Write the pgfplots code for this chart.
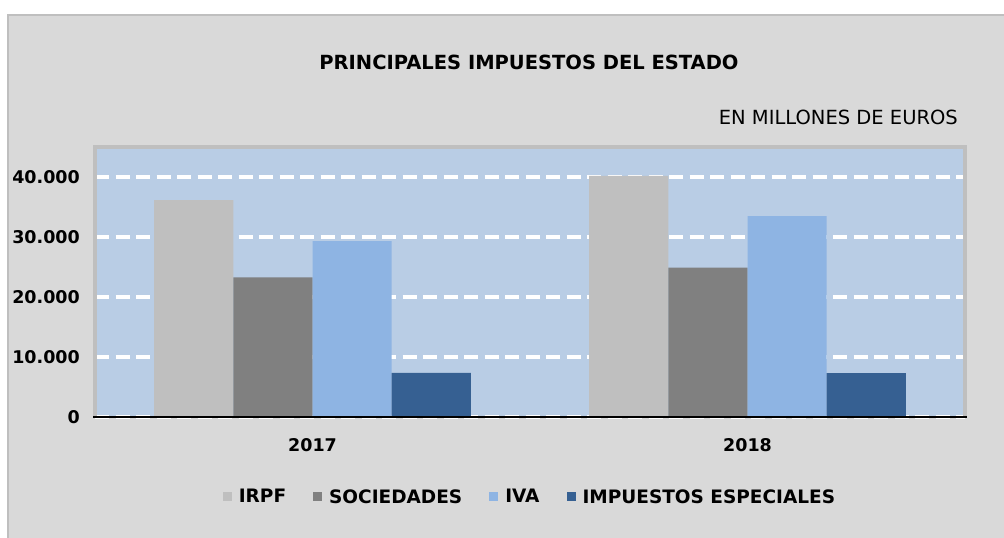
\documentclass[border=0pt]{standalone}
\usepackage{fontspec}
\setmainfont{DejaVu Sans}
\usepackage{pgfplots}
\pgfplotsset{compat=1.18}

\definecolor{outerbg}{HTML}{D9D9D9}
\definecolor{plotbg}{HTML}{B9CDE5}
\definecolor{framec}{HTML}{BFBFBF}
\definecolor{cIRPF}{HTML}{BFBFBF}
\definecolor{cSoc}{HTML}{808080}
\definecolor{cIVA}{HTML}{8EB4E3}
\definecolor{cIE}{HTML}{366092}

\newcommand{\fs}{\fontsize{17.5}{21}\selectfont}
\newcommand{\fst}{\fontsize{19.5}{23}\selectfont}
\newcommand{\fsl}{\fontsize{18.5}{22}\selectfont}

\pgfplotsset{sqleg/.style={legend image code/.code={\fill[##1] (0pt,-4.5pt) rectangle (9pt,4.5pt);}}}

\begin{document}
\begin{tikzpicture}[x=1pt,y=1pt]
\fill[white] (0,0) rectangle (1004,538);
\path[use as bounding box] (0,0) rectangle (1004,538);
\fill[outerbg] (8,0) rectangle (1004,523);
\draw[framec, line width=2pt] (8,0) -- (8,523) -- (1004,523);
% titles
\node[font=\fst\bfseries] at (529,476) {PRINCIPALES IMPUESTOS DEL ESTADO};
\node[font=\fst, anchor=east, inner sep=0pt] at (958,421) {EN MILLONES DE EUROS};
% plot area
\fill[plotbg] (95,121) rectangle (965,391);
\begin{axis}[
    at={(95pt,121pt)}, anchor=south west,
    width=870pt, height=270pt, scale only axis,
    xmin=-0.5, xmax=1.5, ymin=0, ymax=45000,
    scaled y ticks=false,
    ybar=0pt, bar width=0.182,
    axis line style={draw=none},
    major tick length=0pt,
    xtick={0,1}, xticklabels={2017,2018},
    ytick={0,10000,20000,30000,40000},
    yticklabels={0,10.000,20.000,30.000,40.000},
    ticklabel style={font=\fs\bfseries},
    xticklabel style={anchor=center, yshift=-28pt},
    yticklabel style={anchor=east, inner sep=0pt, xshift=-15pt},
    ymajorgrids, grid style={white, line width=4pt, dash pattern=on 14pt off 6.5pt},
    legend style={at={(0.5,-0.296)}, anchor=center, draw=none, fill=none,
      font=\fsl\bfseries, legend columns=4,
      /tikz/every odd column/.append style={column sep=5pt},
      /tikz/every even column/.append style={column sep=25pt}},
  ]
  \addplot[fill=cIRPF, draw=none, sqleg] coordinates {(0,36150) (1,40200)};
  \addlegendentry{IRPF}
  \addplot[fill=cSoc, draw=none, sqleg] coordinates {(0,23250) (1,24900)};
  \addlegendentry{SOCIEDADES}
  \addplot[fill=cIVA, draw=none, sqleg] coordinates {(0,29300) (1,33500)};
  \addlegendentry{IVA}
  \addplot[fill=cIE, draw=none, sqleg] coordinates {(0,7350) (1,7300)};
  \addlegendentry{IMPUESTOS ESPECIALES}
\end{axis}
\draw[framec, line width=4pt] (95,121) -- (95,391) -- (965,391) -- (965,121);
\draw[black, line width=1.5pt] (93,121) -- (967,121);
\end{tikzpicture}
\end{document}
